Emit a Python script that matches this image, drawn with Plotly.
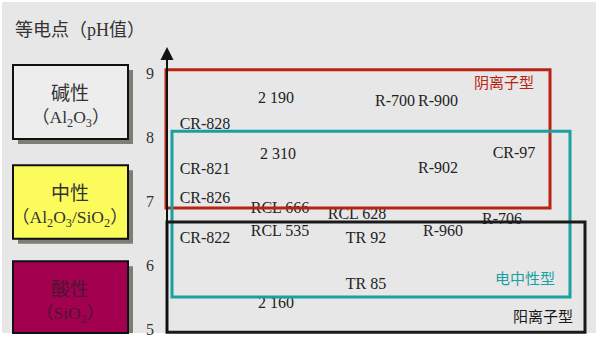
import plotly.graph_objects as go

# ---- data ----
grade_labels = ["CR-828", "2 190", "R-700", "R-900", "2 310", "CR-97", "CR-821", "R-902",
                "CR-826", "RCL 666", "RCL 628", "R-706", "CR-822", "RCL 535", "TR 92",
                "R-960", "TR 85", "2 160"]
grade_ph = [8.19, 8.59, 8.55, 8.55, 7.72, 7.73, 7.48, 7.50,
            7.03, 6.87, 6.78, 6.70, 6.41, 6.52, 6.41,
            6.52, 5.69, 5.39]
grade_col = [205, 276, 395, 438, 278, 514, 205, 438,
             205, 280, 357, 502, 205, 280, 366,
             443, 366, 276]

ph_ticks = [5, 6, 7, 8, 9]

# surface-treatment type ranges (pH low, pH high)
type_names = ["阴离子型", "电中性型", "阳离子型"]
type_ranges = [(6.89, 9.05), (5.50, 8.09), (4.95, 6.67)]

# coating categories (pH low, pH high)
coat_names = ["碱性", "中性", "酸性"]
coat_sub = ["（Al<sub>2</sub>O<sub>3</sub>）", "（Al<sub>2</sub>O<sub>3</sub>/SiO<sub>2</sub>）", "（SiO<sub>2</sub>）"]
coat_ranges = [(7.97, 9.125), (6.41, 7.56), (4.9375, 6.06)]

# ---- figure ----
PX = 1 / 64.0  # pH per pixel
Y0, Y1 = 9 - (337 - 73) * PX, 9 + 73 * PX

fig = go.Figure()
SERIF = "Liberation Serif, Noto Sans CJK SC"

fig.add_trace(go.Scatter(
    x=grade_col, y=grade_ph, mode="text", text=grade_labels,
    textposition="middle center",
    textfont=dict(family=SERIF, size=16, color="#222222"),
    hoverinfo="text", showlegend=False))

shapes = []
# gray background
shapes.append(dict(type="rect", xref="paper", yref="paper", x0=2/600, x1=596/600,
                   y0=1-333/337, y1=1-2/337, fillcolor="#e7e7e7", line=dict(width=0), layer="below"))

# coating boxes with shadow
coat_fill = ["#ededed", "#fbfb5c", "#a3004f"]
coat_text = ["#333333", "#333333", "#4a1535"]
for (lo, hi), fc in zip(coat_ranges, coat_fill):
    shapes.append(dict(type="rect", x0=18, x1=133, y0=max(lo - 5*PX, Y0 + 4*PX), y1=hi - 5*PX,
                       fillcolor="#7e7e76", line=dict(width=0), layer="below"))
    shapes.append(dict(type="rect", x0=13, x1=128, y0=lo, y1=hi,
                       fillcolor=fc, line=dict(color="#111111", width=2), layer="below"))

# type boxes
type_colors = ["#b92314", "#1aa0a0", "#1a1a1a"]
type_x = [(166, 550), (172, 570), (167, 585)]
for (lo, hi), (xa, xb), c in zip(type_ranges, type_x, type_colors):
    shapes.append(dict(type="rect", x0=xa, x1=xb, y0=lo, y1=hi,
                       fillcolor="rgba(0,0,0,0)", line=dict(color=c, width=3), layer="above"))

annotations = []
# axis arrow
annotations.append(dict(x=167, y=9 + 26*PX, ax=167, ay=Y0 + 4*PX, xref="x", yref="y",
                        axref="x", ayref="y", text="", showarrow=True, arrowhead=2,
                        arrowsize=1.3, arrowwidth=2, arrowcolor="#111111"))
# title
annotations.append(dict(x=13/600, y=1-30/337, xref="paper", yref="paper", xanchor="left",
                        yanchor="middle", text="等电点（pH值）", showarrow=False,
                        font=dict(family=SERIF, size=18, color="#333333")))
# tick labels
for t in ph_ticks:
    annotations.append(dict(x=150, y=t, xref="x", yref="y", text=str(t), showarrow=False,
                            xanchor="center", yanchor="middle",
                            font=dict(family=SERIF, size=16, color="#333333")))
# coating texts
for (lo, hi), n, s, tc in zip(coat_ranges, coat_names, coat_sub, coat_text):
    annotations.append(dict(x=70, y=hi - 28*PX, xref="x", yref="y", text=n, showarrow=False,
                            font=dict(family=SERIF, size=19, color=tc)))
    annotations.append(dict(x=70, y=hi - 53*PX, xref="x", yref="y", text=s, showarrow=False,
                            font=dict(family=SERIF, size=17.5, color=tc)))
# type texts
type_lab_pos = [(504, 8.84), (525, 5.78), (543, 5.19)]
type_lab_col = ["#b92314", "#1aa0a0", "#1a1a1a"]
for n, (xx, yy), c in zip(type_names, type_lab_pos, type_lab_col):
    annotations.append(dict(x=xx, y=yy, xref="x", yref="y", text=n, showarrow=False,
                            font=dict(family=SERIF, size=15, color=c)))

fig.update_layout(
    width=600, height=337, margin=dict(l=0, r=0, t=0, b=0),
    paper_bgcolor="#ffffff", plot_bgcolor="rgba(0,0,0,0)",
    xaxis=dict(range=[0, 600], visible=False, fixedrange=True),
    yaxis=dict(range=[Y0, Y1], visible=False, fixedrange=True),
    shapes=shapes, annotations=annotations, showlegend=False,
)

fig.write_html("out.html")
